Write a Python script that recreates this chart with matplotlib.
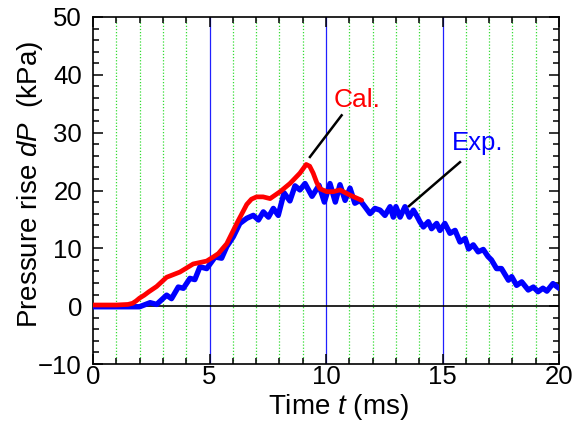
import matplotlib
matplotlib.use('Agg')
import matplotlib.pyplot as plt
from matplotlib.ticker import MultipleLocator

# ---- data ----
exp_t = [0.0, 1.5, 2.0, 2.45, 2.73, 3.16, 3.37, 3.66, 3.88, 4.16, 4.37, 4.59, 4.88, 5.24, 5.52,
         5.74, 6.02, 6.3, 6.6, 6.88, 7.1, 7.31, 7.53, 7.74, 7.95, 8.2, 8.45, 8.67, 8.88, 9.1,
         9.4, 9.7, 9.93, 10.17, 10.4, 10.6, 10.82, 11.03, 11.24, 11.46, 11.67, 11.89, 12.1,
         12.32, 12.53, 12.75, 12.89, 13.0, 13.18, 13.39, 13.58, 13.75, 13.9, 14.03, 14.18,
         14.39, 14.53, 14.75, 14.89, 15.1, 15.32, 15.54, 15.75, 15.97, 16.12, 16.32, 16.53,
         16.75, 16.95, 17.1, 17.32, 17.53, 17.83, 17.97, 18.18, 18.4, 18.68, 18.9, 19.1,
         19.31, 19.48, 19.74, 20.0]
exp_p = [-0.1, -0.1, -0.1, 0.6, 0.3, 1.9, 1.3, 3.3, 3.1, 4.8, 4.6, 6.8, 6.5, 8.5, 8.3,
         10.3, 12.0, 14.3, 15.2, 15.7, 14.9, 16.3, 15.4, 16.9, 15.7, 19.6, 18.2, 20.8, 20.1, 21.2,
         19.0, 20.9, 18.0, 21.2, 18.0, 21.0, 18.3, 20.4, 17.8, 18.3, 17.2, 16.0, 16.9,
         16.6, 15.7, 17.2, 15.4, 17.2, 15.4, 17.2, 15.4, 16.6, 15.6, 14.6, 13.7,
         14.6, 13.4, 14.3, 13.1, 14.3, 12.6, 13.1, 11.1, 11.7, 9.9, 10.6, 9.4,
         9.8, 8.6, 8.0, 6.5, 6.5, 4.5, 5.1, 3.6, 4.2, 2.8, 3.3, 2.5,
         3.1, 2.6, 3.9, 3.1]

cal_t = [0.0, 1.0, 1.5, 1.7, 1.85, 2.0, 2.2, 2.4, 2.73, 3.16, 3.73, 4.3, 4.88, 5.16, 5.38,
         5.74, 6.17, 6.6, 6.8, 7.02, 7.3, 7.6, 8.03, 8.45, 8.88, 9.15, 9.3, 9.45, 9.6, 9.74,
         10.03, 10.31, 10.6, 11.03, 11.53]
cal_p = [0.2, 0.2, 0.3, 0.5, 0.9, 1.4, 1.9, 2.5, 3.4, 5.0, 5.9, 7.3, 7.8, 8.5, 9.1,
         10.8, 14.3, 17.6, 18.5, 18.9, 18.9, 18.6, 19.8, 21.2, 23.0, 24.5, 24.2, 23.0, 21.4, 20.3,
         19.8, 19.8, 20.1, 19.2, 18.3]

x_grid = list(range(1, 20))
x_major_lines = [5, 10, 15]

plt.rcParams['font.family'] = ['Liberation Sans', 'DejaVu Sans']
plt.rcParams['mathtext.fontset'] = 'custom'
plt.rcParams['mathtext.rm'] = 'Liberation Sans'
plt.rcParams['mathtext.it'] = 'Liberation Sans:italic'

fig = plt.figure(figsize=(5.8, 4.34), dpi=100)
ax = fig.add_axes([93/580, 1-364/434, 466/580, 347/434])

for g in x_grid:
    if g in x_major_lines:
        continue
    ax.axvline(g, color='#33dd33', ls=(0, (1, 1.5)), lw=0.9, zorder=1)
for g in x_major_lines:
    ax.axvline(g, color='#2020ff', lw=0.9, zorder=1)
ax.axhline(0, color='black', lw=1.2, zorder=1)

ax.plot(exp_t, exp_p, color='#0000ff', lw=3.9, solid_joinstyle='round', solid_capstyle='round', zorder=3)
ax.plot(cal_t, cal_p, color='#ff0000', lw=3.4, solid_joinstyle='round', solid_capstyle='round', zorder=4)

# leader lines and labels
ax.plot([9.31, 10.67], [25.8, 33.0], color='black', lw=1.8, zorder=5)
ax.text(11.33, 35.6, 'Cal.', color='#ff0000', fontsize=19, ha='center', va='center')
ax.plot([13.56, 15.75], [17.3, 24.9], color='black', lw=1.8, zorder=5)
ax.text(16.52, 28.2, 'Exp.', color='#0000ff', fontsize=18.5, ha='center', va='center')

ax.set_xlim(0, 20)
ax.set_ylim(-10, 50)
ax.xaxis.set_major_locator(MultipleLocator(5))
ax.xaxis.set_minor_locator(MultipleLocator(1))
ax.yaxis.set_major_locator(MultipleLocator(10))
ax.yaxis.set_minor_locator(MultipleLocator(2))
ax.tick_params(which='both', direction='in', top=True, right=True, labelsize=18.5, width=1.1)
ax.tick_params(which='major', length=7)
ax.tick_params(which='minor', length=4)
ax.tick_params(axis='x', pad=1)
ax.tick_params(axis='y', pad=8)
for s in ax.spines.values():
    s.set_linewidth(1.2)

ax.text(0.526, -0.125, 'Time $t$ (ms)', transform=ax.transAxes, fontsize=20, ha='center', va='center')
ax.text(-0.135, 0.518, r'Pressure rise $\mathit{dP}$  (kPa)', transform=ax.transAxes,
        fontsize=20, ha='center', va='center', rotation=90)

fig.savefig('out.png', dpi=100)
